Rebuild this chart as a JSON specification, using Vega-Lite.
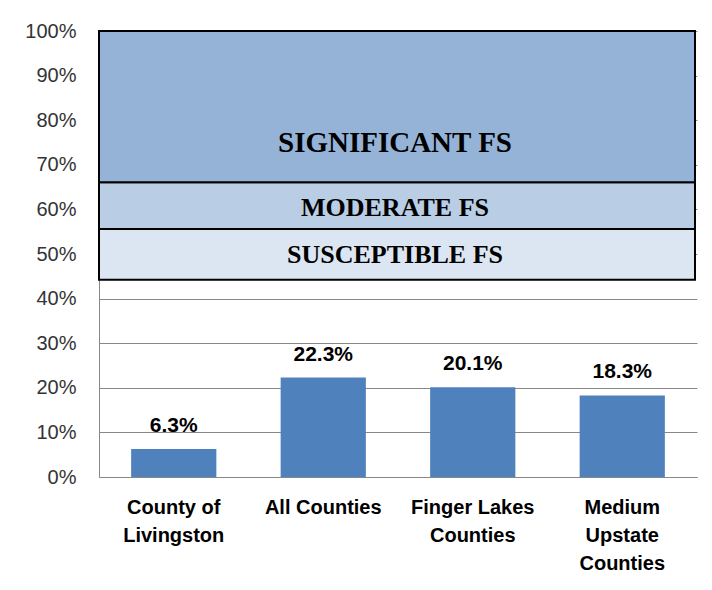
{
  "$schema": "https://vega.github.io/schema/vega-lite/v6.json",
  "width": 598,
  "height": 446,
  "autosize": {"type": "none"},
  "padding": {"left": 99, "top": 31, "right": 15, "bottom": 113},
  "background": "white",
  "config": {"view": {"stroke": null}},
  "datasets": {
    "bars": [
      {"group": "County of\nLivingston", "value": 0.063},
      {"group": "All Counties", "value": 0.223},
      {"group": "Finger Lakes\nCounties", "value": 0.201},
      {"group": "Medium\nUpstate\nCounties", "value": 0.183}
    ],
    "bands": [
      {"band": "Susceptible", "label": "SUSCEPTIBLE FS", "lo": 0.442, "hi": 0.556, "mid": 0.498},
      {"band": "Moderate", "label": "MODERATE FS", "lo": 0.556, "hi": 0.661, "mid": 0.603},
      {"band": "Significant", "label": "SIGNIFICANT FS", "lo": 0.661, "hi": 1.0, "mid": 0.749}
    ]
  },
  "layer": [
    {
      "data": {"name": "bars"},
      "mark": {"type": "bar", "color": "#4F81BD"},
      "encoding": {
        "x": {
          "field": "group", "type": "nominal", "sort": null,
          "scale": {"paddingInner": 0.43, "paddingOuter": 0.215},
          "axis": {
            "title": null, "labelAngle": 0, "ticks": false,
            "domainColor": "#888888", "domainWidth": 1,
            "labelFont": "Liberation Sans", "labelFontSize": 20, "labelFontWeight": "bold",
            "labelColor": "#000000", "labelLineHeight": 28, "labelPadding": 20,
            "labelExpr": "split(datum.label, '\\n')"
          }
        },
        "y": {
          "field": "value", "type": "quantitative",
          "scale": {"domain": [0, 1], "nice": false},
          "axis": {
            "title": null, "values": [0, 0.1, 0.2, 0.3, 0.4, 0.5, 0.6, 0.7, 0.8, 0.9, 1.0],
            "format": ".0%", "grid": true, "gridColor": "#888888", "gridWidth": 1,
            "ticks": false, "domainColor": "#888888", "domainWidth": 1,
            "labelFont": "Liberation Sans", "labelFontSize": 20, "labelColor": "#333333",
            "labelPadding": 23
          }
        }
      }
    },
    {
      "data": {"name": "bars"},
      "mark": {"type": "text", "font": "Liberation Sans", "fontSize": 21, "fontWeight": "bold", "color": "#000000", "baseline": "alphabetic", "dy": -17},
      "encoding": {
        "x": {"field": "group", "type": "nominal", "sort": null},
        "y": {"field": "value", "type": "quantitative"},
        "text": {"field": "value", "type": "quantitative", "format": ".1%"}
      }
    },
    {
      "data": {"name": "bands"},
      "mark": {"type": "rect", "stroke": "#000000", "strokeWidth": 2, "xOffset": -2, "x2Offset": -5},
      "encoding": {
        "y": {"field": "lo", "type": "quantitative"},
        "y2": {"field": "hi"},
        "color": {
          "field": "band", "type": "nominal", "legend": null,
          "scale": {"domain": ["Significant", "Moderate", "Susceptible"], "range": ["#95B3D7", "#B9CDE5", "#DCE6F2"]}
        }
      }
    },
    {
      "data": {"name": "bands"},
      "transform": [{"filter": "datum.band == 'Significant'"}],
      "mark": {"type": "text", "font": "Liberation Serif", "fontSize": 29, "fontWeight": "bold", "color": "#000000", "baseline": "middle", "dx": -3},
      "encoding": {
        "y": {"field": "mid", "type": "quantitative"},
        "text": {"field": "label", "type": "nominal"}
      }
    },
    {
      "data": {"name": "bands"},
      "transform": [{"filter": "datum.band != 'Significant'"}],
      "mark": {"type": "text", "font": "Liberation Serif", "fontSize": 26, "fontWeight": "bold", "color": "#000000", "baseline": "middle", "dx": -3},
      "encoding": {
        "y": {"field": "mid", "type": "quantitative"},
        "text": {"field": "label", "type": "nominal"}
      }
    }
  ]
}
